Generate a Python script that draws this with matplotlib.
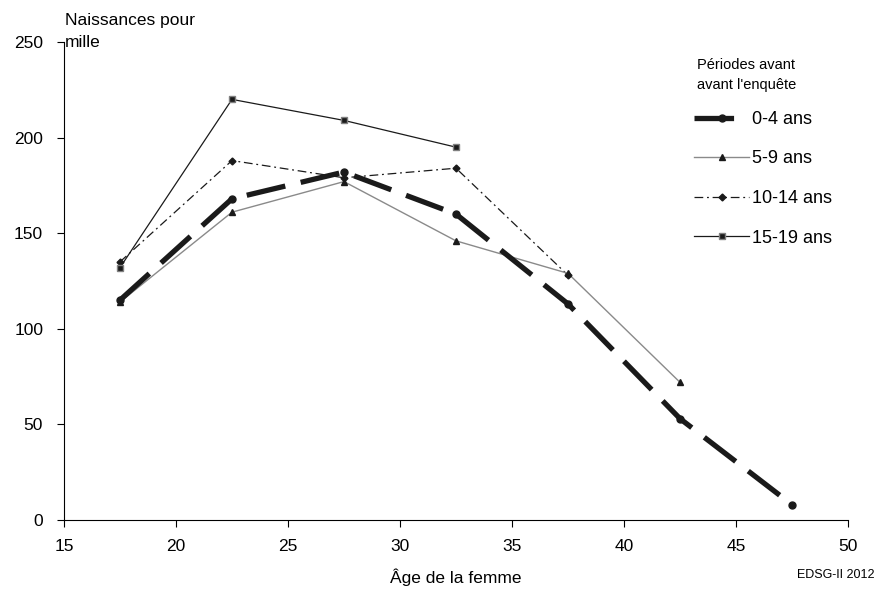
import matplotlib
matplotlib.use("Agg")
import matplotlib.pyplot as plt

plt.rcParams['font.family'] = ['Liberation Sans', 'DejaVu Sans']

ages = [17.5, 22.5, 27.5, 32.5, 37.5, 42.5, 47.5]
s_0_4 = [115, 168, 182, 160, 113, 53, 8]
s_5_9 = [114, 161, 177, 146, 129, 72]
s_10_14 = [135, 188, 179, 184, 128]
s_15_19 = [132, 220, 209, 195]
labels = ['0-4 ans', '5-9 ans', '10-14 ans', '15-19 ans']

fig = plt.figure(figsize=(8.81, 5.96), dpi=100)
ax = fig.add_axes([0.0726, 0.1275, 0.89, 0.802])

h1, = ax.plot(ages[:len(s_0_4)], s_0_4, color='#1a1a1a', lw=3.8, dashes=(7.5, 3),
              marker='o', ms=5, label=labels[0], zorder=5)
h2, = ax.plot(ages[:len(s_5_9)], s_5_9, color='#8a8a8a', lw=1.0,
              marker='^', ms=4.5, mfc='#1a1a1a', mec='#1a1a1a', label=labels[1], zorder=4)
h3, = ax.plot(ages[:len(s_10_14)], s_10_14, color='#1a1a1a', lw=0.9, dashes=(7, 3, 1.5, 3),
              marker='D', ms=3.5, label=labels[2], zorder=3)
h4, = ax.plot(ages[:len(s_15_19)], s_15_19, color='#1a1a1a', lw=0.9,
              marker='s', ms=5, mfc='#1a1a1a', mec='#808080', label=labels[3], zorder=3)

ax.set_xlim(15, 50)
ax.set_ylim(0, 250)
ax.set_xticks(range(15, 51, 5))
ax.set_yticks(range(0, 251, 50))
ax.tick_params(axis='both', labelsize=12.5, direction='out', length=5, width=0.8)
ax.tick_params(axis='x', pad=9)
ax.tick_params(axis='y', pad=10)
for s in ['top', 'right']:
    ax.spines[s].set_visible(False)
for s in ['left', 'bottom']:
    ax.spines[s].set_linewidth(0.8)

ax.set_xlabel('Âge de la femme', fontsize=12.5, labelpad=10)
fig.text(0.074, 0.978, 'Naissances pour\nmille', fontsize=12.5, va='top', ha='left', linespacing=1.6)
fig.text(0.993, 0.025, 'EDSG-II 2012', fontsize=9, ha='right', va='bottom')

leg = ax.legend(handles=[h1, h2, h3, h4], loc='upper left', bbox_to_anchor=(0.804, 0.856),
                frameon=False, fontsize=13, handlelength=3.05, labelspacing=1.25,
                handletextpad=0.15, borderaxespad=0, borderpad=0)
fig.text(0.791, 0.846, "Périodes avant\navant l'enquête", fontsize=10.5, va='bottom', ha='left',
         linespacing=1.55)

fig.savefig('out.png', dpi=100)
